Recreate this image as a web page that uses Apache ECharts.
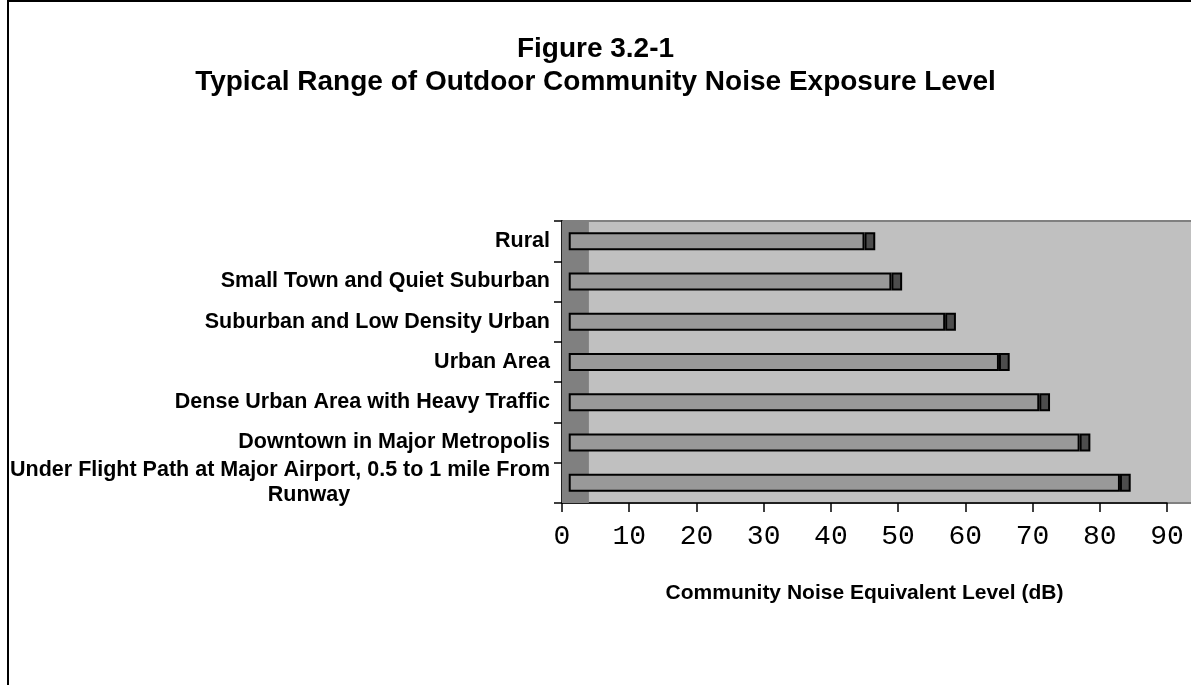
<!DOCTYPE html>
<html>
<head>
<meta charset="utf-8">
<script src="https://cdn.jsdelivr.net/npm/echarts@6/dist/echarts.min.js"></script>
<style>
html,body{margin:0;padding:0;background:#fff;}
#chart{width:1191px;height:685px;}
</style>
</head>
<body>
<div id="chart"></div>
<script>
// ---- data ----
const categories = [
  'Rural',
  'Small Town and Quiet Suburban',
  'Suburban and Low Density Urban',
  'Urban Area',
  'Dense Urban Area with Heavy Traffic',
  'Downtown in Major Metropolis',
  'Under Flight Path at Major Airport, 0.5 to 1 mile From Runway'
];
const barStart = [1, 1, 1, 1, 1, 1, 1];
const rangeEnd = [45, 49, 57, 65, 71, 77, 83];
const capWidth = [1.6, 1.6, 1.6, 1.6, 1.6, 1.6, 1.6];
const xTicks = [0, 10, 20, 30, 40, 50, 60, 70, 80, 90];
const bandRange = [0, 4];

const grayData = rangeEnd.map((v, i) => v - barStart[i]);

const chart = echarts.init(document.getElementById('chart'));
const FONT = "'Liberation Sans', Arial, sans-serif";
chart.setOption({
  backgroundColor: '#ffffff',
  animation: false,
  title: {
    text: 'Figure 3.2-1\nTypical Range of Outdoor Community Noise Exposure Level',
    left: 'center',
    top: 28,
    textStyle: { fontFamily: FONT, fontWeight: 'bold', fontSize: 28, lineHeight: 33, color: '#000', align: 'center' }
  },
  graphic: [
    { type: 'rect', z: 0, silent: true,
      shape: { x: 562, y: 221, width: 660, height: 282 },
      style: { fill: '#c0c0c0', stroke: '#808080', lineWidth: 2 } },
    { type: 'rect', z: 100, silent: true,
      shape: { x: 8, y: 1, width: 1400, height: 900 },
      style: { fill: 'none', stroke: '#000', lineWidth: 2 } }
  ],
  grid: { left: 562, right: 24, top: 221, bottom: 182, containLabel: false },
  xAxis: {
    type: 'value', min: xTicks[0], max: xTicks[xTicks.length - 1], interval: 10,
    axisLine: { show: true, lineStyle: { color: '#000', width: 1.5 } },
    axisTick: { show: true, length: 9, lineStyle: { color: '#000', width: 1.5 } },
    splitLine: { show: false },
    axisLabel: { fontFamily: "'Liberation Mono', 'Courier New', monospace", fontSize: 28, color: '#000', margin: 20 },
    name: 'Community Noise Equivalent Level (dB)',
    nameLocation: 'middle', nameGap: 80,
    nameTextStyle: { fontFamily: FONT, fontWeight: 'bold', fontSize: 21, color: '#000' }
  },
  yAxis: {
    type: 'category', inverse: true, data: categories,
    axisLine: { show: true, lineStyle: { color: '#000', width: 1.5 } },
    axisTick: { show: true, length: 8, lineStyle: { color: '#000', width: 1.5 } },
    axisLabel: {
      fontFamily: FONT, fontWeight: 'bold', fontSize: 21.5, color: '#000', margin: 12,
      formatter: function (v) {
        if (v.indexOf('Runway') >= 0) {
          return '{a|Under Flight Path at Major Airport, 0.5 to 1 mile From}\n{b|Runway}';
        }
        return v;
      },
      rich: {
        a: { fontFamily: FONT, fontWeight: 'bold', fontSize: 21.5, color: '#000', align: 'center', lineHeight: 25 },
        b: { fontFamily: FONT, fontWeight: 'bold', fontSize: 21.5, color: '#000', align: 'center', lineHeight: 25, padding: [0, 0, 0, 58] }
      }
    }
  },
  series: [
    {
      type: 'bar', stack: 'r', data: barStart, barWidth: 18,
      itemStyle: { color: 'rgba(0,0,0,0)' }, silent: true,
      markArea: {
        silent: true,
        itemStyle: { color: '#808080' },
        data: [[{ xAxis: bandRange[0] }, { xAxis: bandRange[1] }]]
      }
    },
    {
      type: 'bar', stack: 'r', data: grayData, barWidth: 18,
      itemStyle: { color: '#999999', borderColor: '#000', borderWidth: 2 }
    },
    {
      type: 'bar', stack: 'r', data: capWidth, barWidth: 18,
      itemStyle: { color: '#4d4d4d', borderColor: '#000', borderWidth: 2 }
    }
  ]
});
</script>
</body>
</html>
